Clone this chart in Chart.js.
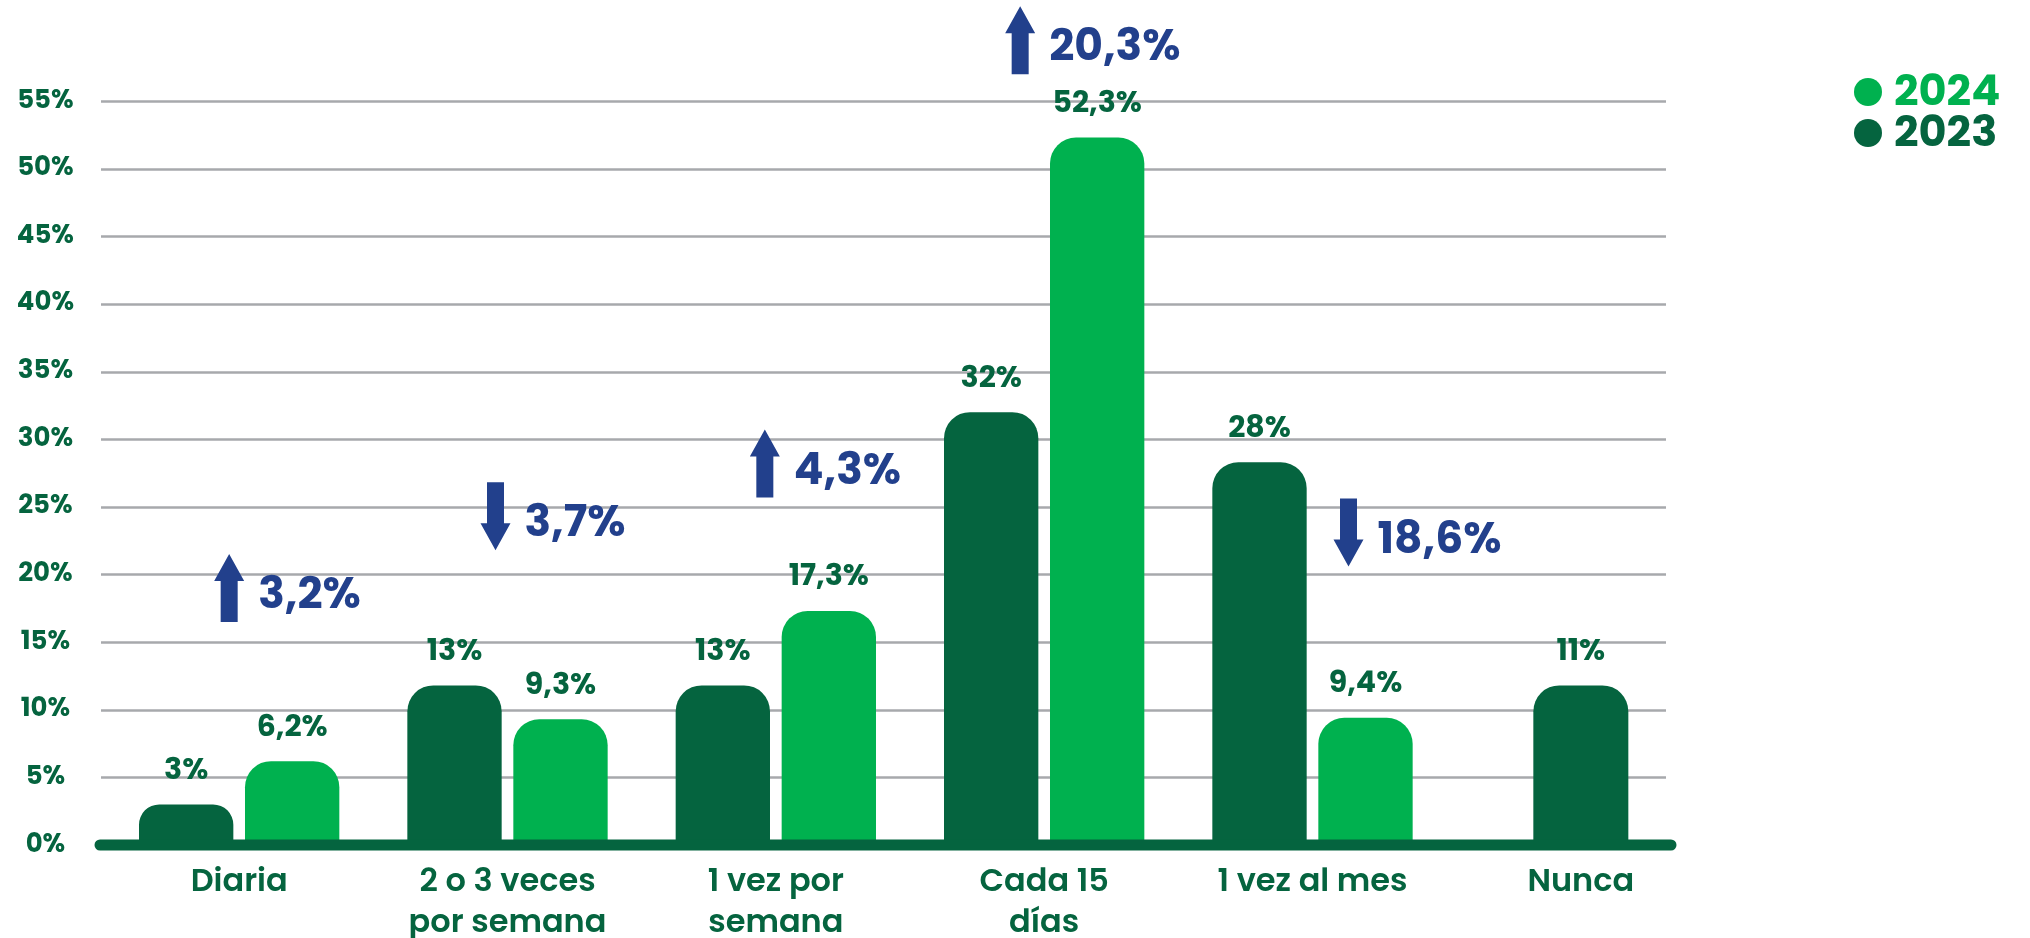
<!DOCTYPE html>
<html lang="es">
<head>
<meta charset="utf-8">
<title>Frecuencia 2023 / 2024</title>
<script src="https://cdn.jsdelivr.net/npm/chart.js@4.4.1/dist/chart.umd.min.js"></script>
<style>
  html, body { margin: 0; padding: 0; background: #fff; }
  #wrap { width: 2030px; height: 938px; }
</style>
</head>
<body>
<div id="wrap"><canvas id="chart" width="2030" height="938"></canvas></div>
<script>
// ---- data ----
const categories = [['Diaria'], ['2 o 3 veces', 'por semana'], ['1 vez por', 'semana'], ['Cada 15', 'días'], ['1 vez al mes'], ['Nunca']];
const values2023 = [3, 11.8, 11.8, 32, 28.3, 11.8];
const values2024 = [6.2, 9.3, 17.3, 52.3, 9.4, null];
const labels2023 = ['3%', '13%', '13%', '32%', '28%', '11%'];
const labels2024 = ['6,2%', '9,3%', '17,3%', '52,3%', '9,4%', ''];
// change between years (text, direction, level on the y axis where the arrow sits)
const changeText = ['3,2%', '3,7%', '4,3%', '20,3%', '18,6%'];
const changeDir = ['up', 'down', 'up', 'up', 'down'];
const changeLevel = [19, 24.3, 28.2, 59.5, 23.1];

// ---- styles ----
const DARK = '#05643f';
const LIGHT = '#00b14f';
const BLUE = '#22408c';
const GRID = '#a7a9ac';
const FONT = "Poppins, Inter, 'Noto Sans', sans-serif";
const arrowNudge = [-10, -12, -11, -24, 36];

Chart.defaults.font.family = FONT;

// grey grid lines, thick baseline, value labels, arrows and legend
const gridPlugin = {
    id: 'gridLines',
    beforeDatasetsDraw(chart) {
        const { ctx, chartArea, scales: { y } } = chart;
        ctx.save();
        ctx.strokeStyle = GRID;
        ctx.lineWidth = 2.5;
        y.ticks.forEach(t => {
            if (t.value === 0) return;
            const py = Math.round(y.getPixelForValue(t.value)) + 0.5;
            ctx.beginPath();
            ctx.moveTo(chartArea.left - 4, py);
            ctx.lineTo(chartArea.right - 49, py);
            ctx.stroke();
        });
        ctx.restore();
    },
    afterDatasetsDraw(chart) {
        const { ctx, chartArea, scales: { x, y } } = chart;
        ctx.save();
        // baseline
        ctx.strokeStyle = DARK;
        ctx.lineWidth = 11;
        ctx.lineCap = 'round';
        ctx.beginPath();
        ctx.moveTo(chartArea.left - 5, y.getPixelForValue(0));
        ctx.lineTo(chartArea.right - 44, y.getPixelForValue(0));
        ctx.stroke();

        // value labels above bars
        ctx.fillStyle = DARK;
        ctx.font = "bold 30px " + FONT;
        ctx.textAlign = 'center';
        ctx.textBaseline = 'middle';
        const texts = [labels2023, labels2024];
        chart.data.datasets.forEach((ds, di) => {
            chart.getDatasetMeta(di).data.forEach((bar, i) => {
                if (ds.data[i] == null) return;
                ctx.fillText(texts[di][i], bar.x, bar.y - 33);
            });
        });

        // change arrows
        ctx.fillStyle = BLUE;
        ctx.font = "bold 44px " + FONT;
        ctx.textAlign = 'left';
        changeText.forEach((txt, i) => {
            const cx = x.getPixelForValue(i) + arrowNudge[i];
            const cy = y.getPixelForValue(changeLevel[i]);
            drawArrow(ctx, cx, cy, changeDir[i]);
            ctx.fillText(txt, cx + 29, cy + 9);
        });
        ctx.restore();
    },
    afterDraw(chart) {
        // legend, 2024 on top
        const { ctx, chartArea } = chart;
        const items = chart.data.datasets.slice().reverse();
        ctx.save();
        ctx.font = "bold 43px " + FONT;
        ctx.textAlign = 'left';
        ctx.textBaseline = 'middle';
        items.forEach((ds, k) => {
            const cy = chartArea.top - 9 + k * 41;
            const cx = chartArea.right + 153;
            ctx.fillStyle = ds.backgroundColor;
            ctx.beginPath();
            ctx.arc(cx, cy, 14, 0, Math.PI * 2);
            ctx.fill();
            ctx.fillText(ds.label, cx + 26, cy + 2);
        });
        ctx.restore();
    }
};

function drawArrow(ctx, x, yc, dir) {
    const len = 68, head = 27, headW = 30, shaft = 17;
    const s = dir === 'up' ? -1 : 1;
    const tip = yc + s * len / 2;
    const tail = yc - s * len / 2;
    const neck = tip - s * head;
    ctx.beginPath();
    ctx.moveTo(x - shaft / 2, tail);
    ctx.lineTo(x + shaft / 2, tail);
    ctx.lineTo(x + shaft / 2, neck);
    ctx.lineTo(x + headW / 2, neck);
    ctx.lineTo(x, tip);
    ctx.lineTo(x - headW / 2, neck);
    ctx.lineTo(x - shaft / 2, neck);
    ctx.closePath();
    ctx.fill();
}

const barStyle = {
    barPercentage: 0.89,
    categoryPercentage: 0.79,
    maxBarThickness: 95,
    borderRadius: 26,
    borderSkipped: 'bottom',
    skipNull: true
};

new Chart(document.getElementById('chart'), {
    type: 'bar',
    data: {
        labels: categories,
        datasets: [
            Object.assign({ label: '2023', data: values2023, backgroundColor: DARK }, barStyle),
            Object.assign({ label: '2024', data: values2024, backgroundColor: LIGHT }, barStyle)
        ]
    },
    options: {
        responsive: false,
        devicePixelRatio: 1,
        animation: false,
        layout: { padding: { top: 101, right: 315, bottom: 0, left: 0 } },
        plugins: {
            legend: { display: false },
            tooltip: { enabled: false }
        },
        scales: {
            x: {
                grid: { display: false, drawTicks: false },
                border: { display: false },
                ticks: {
                    color: DARK,
                    font: { size: 32, weight: '600', lineHeight: 1.3 },
                    padding: 17,
                    maxRotation: 0,
                    autoSkip: false
                },
                afterFit: s => { s.height = 93; }
            },
            y: {
                min: 0,
                max: 55,
                grid: { display: false, drawTicks: false },
                border: { display: false },
                ticks: {
                    stepSize: 5,
                    color: DARK,
                    font: { size: 26, weight: 'bold' },
                    padding: 31,
                    crossAlign: 'center',
                    callback: v => v + '%'
                },
                afterFit: s => { s.width = 105; }
            }
        }
    },
    plugins: [gridPlugin]
});
</script>
</body>
</html>
